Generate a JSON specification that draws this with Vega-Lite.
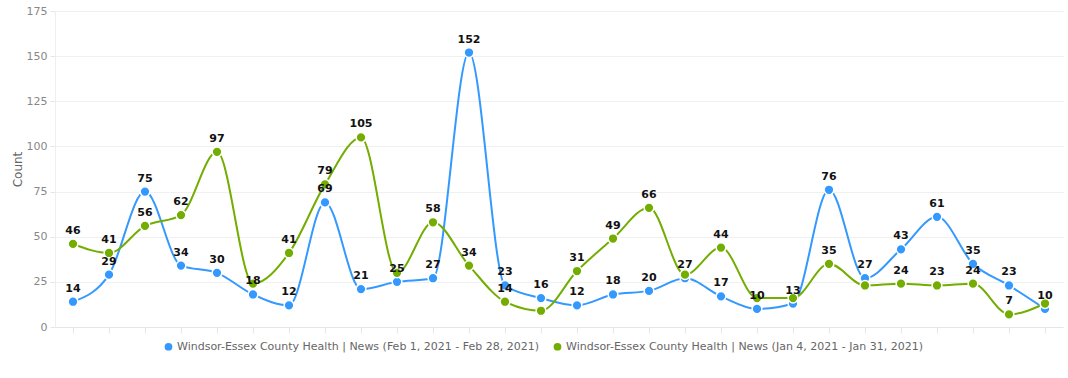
{
  "$schema": "https://vega.github.io/schema/vega-lite/v6.json",
  "width": 1008,
  "height": 316,
  "autosize": {"type": "none"},
  "padding": {"left": 55, "top": 11, "right": 5, "bottom": 51},
  "background": "white",
  "config": {
    "font": "DejaVu Sans",
    "view": {"stroke": null}
  },
  "data": {
    "values": [
      {"day": 1, "series": "Windsor-Essex County Health | News (Feb 1, 2021 - Feb 28, 2021)", "count": 14, "labeled": true},
      {"day": 2, "series": "Windsor-Essex County Health | News (Feb 1, 2021 - Feb 28, 2021)", "count": 29, "labeled": true},
      {"day": 3, "series": "Windsor-Essex County Health | News (Feb 1, 2021 - Feb 28, 2021)", "count": 75, "labeled": true},
      {"day": 4, "series": "Windsor-Essex County Health | News (Feb 1, 2021 - Feb 28, 2021)", "count": 34, "labeled": true},
      {"day": 5, "series": "Windsor-Essex County Health | News (Feb 1, 2021 - Feb 28, 2021)", "count": 30, "labeled": true},
      {"day": 6, "series": "Windsor-Essex County Health | News (Feb 1, 2021 - Feb 28, 2021)", "count": 18, "labeled": true},
      {"day": 7, "series": "Windsor-Essex County Health | News (Feb 1, 2021 - Feb 28, 2021)", "count": 12, "labeled": true},
      {"day": 8, "series": "Windsor-Essex County Health | News (Feb 1, 2021 - Feb 28, 2021)", "count": 69, "labeled": true},
      {"day": 9, "series": "Windsor-Essex County Health | News (Feb 1, 2021 - Feb 28, 2021)", "count": 21, "labeled": true},
      {"day": 10, "series": "Windsor-Essex County Health | News (Feb 1, 2021 - Feb 28, 2021)", "count": 25, "labeled": true},
      {"day": 11, "series": "Windsor-Essex County Health | News (Feb 1, 2021 - Feb 28, 2021)", "count": 27, "labeled": true},
      {"day": 12, "series": "Windsor-Essex County Health | News (Feb 1, 2021 - Feb 28, 2021)", "count": 152, "labeled": true},
      {"day": 13, "series": "Windsor-Essex County Health | News (Feb 1, 2021 - Feb 28, 2021)", "count": 23, "labeled": true},
      {"day": 14, "series": "Windsor-Essex County Health | News (Feb 1, 2021 - Feb 28, 2021)", "count": 16, "labeled": true},
      {"day": 15, "series": "Windsor-Essex County Health | News (Feb 1, 2021 - Feb 28, 2021)", "count": 12, "labeled": true},
      {"day": 16, "series": "Windsor-Essex County Health | News (Feb 1, 2021 - Feb 28, 2021)", "count": 18, "labeled": true},
      {"day": 17, "series": "Windsor-Essex County Health | News (Feb 1, 2021 - Feb 28, 2021)", "count": 20, "labeled": true},
      {"day": 18, "series": "Windsor-Essex County Health | News (Feb 1, 2021 - Feb 28, 2021)", "count": 27, "labeled": true},
      {"day": 19, "series": "Windsor-Essex County Health | News (Feb 1, 2021 - Feb 28, 2021)", "count": 17, "labeled": true},
      {"day": 20, "series": "Windsor-Essex County Health | News (Feb 1, 2021 - Feb 28, 2021)", "count": 10, "labeled": true},
      {"day": 21, "series": "Windsor-Essex County Health | News (Feb 1, 2021 - Feb 28, 2021)", "count": 13, "labeled": true},
      {"day": 22, "series": "Windsor-Essex County Health | News (Feb 1, 2021 - Feb 28, 2021)", "count": 76, "labeled": true},
      {"day": 23, "series": "Windsor-Essex County Health | News (Feb 1, 2021 - Feb 28, 2021)", "count": 27, "labeled": true},
      {"day": 24, "series": "Windsor-Essex County Health | News (Feb 1, 2021 - Feb 28, 2021)", "count": 43, "labeled": true},
      {"day": 25, "series": "Windsor-Essex County Health | News (Feb 1, 2021 - Feb 28, 2021)", "count": 61, "labeled": true},
      {"day": 26, "series": "Windsor-Essex County Health | News (Feb 1, 2021 - Feb 28, 2021)", "count": 35, "labeled": true},
      {"day": 27, "series": "Windsor-Essex County Health | News (Feb 1, 2021 - Feb 28, 2021)", "count": 23, "labeled": true},
      {"day": 28, "series": "Windsor-Essex County Health | News (Feb 1, 2021 - Feb 28, 2021)", "count": 10, "labeled": true},
      {"day": 1, "series": "Windsor-Essex County Health | News (Jan 4, 2021 - Jan 31, 2021)", "count": 46, "labeled": true},
      {"day": 2, "series": "Windsor-Essex County Health | News (Jan 4, 2021 - Jan 31, 2021)", "count": 41, "labeled": true},
      {"day": 3, "series": "Windsor-Essex County Health | News (Jan 4, 2021 - Jan 31, 2021)", "count": 56, "labeled": true},
      {"day": 4, "series": "Windsor-Essex County Health | News (Jan 4, 2021 - Jan 31, 2021)", "count": 62, "labeled": true},
      {"day": 5, "series": "Windsor-Essex County Health | News (Jan 4, 2021 - Jan 31, 2021)", "count": 97, "labeled": true},
      {"day": 6, "series": "Windsor-Essex County Health | News (Jan 4, 2021 - Jan 31, 2021)", "count": 24, "labeled": false},
      {"day": 7, "series": "Windsor-Essex County Health | News (Jan 4, 2021 - Jan 31, 2021)", "count": 41, "labeled": true},
      {"day": 8, "series": "Windsor-Essex County Health | News (Jan 4, 2021 - Jan 31, 2021)", "count": 79, "labeled": true},
      {"day": 9, "series": "Windsor-Essex County Health | News (Jan 4, 2021 - Jan 31, 2021)", "count": 105, "labeled": true},
      {"day": 10, "series": "Windsor-Essex County Health | News (Jan 4, 2021 - Jan 31, 2021)", "count": 30, "labeled": false},
      {"day": 11, "series": "Windsor-Essex County Health | News (Jan 4, 2021 - Jan 31, 2021)", "count": 58, "labeled": true},
      {"day": 12, "series": "Windsor-Essex County Health | News (Jan 4, 2021 - Jan 31, 2021)", "count": 34, "labeled": true},
      {"day": 13, "series": "Windsor-Essex County Health | News (Jan 4, 2021 - Jan 31, 2021)", "count": 14, "labeled": true},
      {"day": 14, "series": "Windsor-Essex County Health | News (Jan 4, 2021 - Jan 31, 2021)", "count": 9, "labeled": false},
      {"day": 15, "series": "Windsor-Essex County Health | News (Jan 4, 2021 - Jan 31, 2021)", "count": 31, "labeled": true},
      {"day": 16, "series": "Windsor-Essex County Health | News (Jan 4, 2021 - Jan 31, 2021)", "count": 49, "labeled": true},
      {"day": 17, "series": "Windsor-Essex County Health | News (Jan 4, 2021 - Jan 31, 2021)", "count": 66, "labeled": true},
      {"day": 18, "series": "Windsor-Essex County Health | News (Jan 4, 2021 - Jan 31, 2021)", "count": 29, "labeled": false},
      {"day": 19, "series": "Windsor-Essex County Health | News (Jan 4, 2021 - Jan 31, 2021)", "count": 44, "labeled": true},
      {"day": 20, "series": "Windsor-Essex County Health | News (Jan 4, 2021 - Jan 31, 2021)", "count": 16, "labeled": false},
      {"day": 21, "series": "Windsor-Essex County Health | News (Jan 4, 2021 - Jan 31, 2021)", "count": 16, "labeled": false},
      {"day": 22, "series": "Windsor-Essex County Health | News (Jan 4, 2021 - Jan 31, 2021)", "count": 35, "labeled": true},
      {"day": 23, "series": "Windsor-Essex County Health | News (Jan 4, 2021 - Jan 31, 2021)", "count": 23, "labeled": false},
      {"day": 24, "series": "Windsor-Essex County Health | News (Jan 4, 2021 - Jan 31, 2021)", "count": 24, "labeled": true},
      {"day": 25, "series": "Windsor-Essex County Health | News (Jan 4, 2021 - Jan 31, 2021)", "count": 23, "labeled": true},
      {"day": 26, "series": "Windsor-Essex County Health | News (Jan 4, 2021 - Jan 31, 2021)", "count": 24, "labeled": true},
      {"day": 27, "series": "Windsor-Essex County Health | News (Jan 4, 2021 - Jan 31, 2021)", "count": 7, "labeled": true},
      {"day": 28, "series": "Windsor-Essex County Health | News (Jan 4, 2021 - Jan 31, 2021)", "count": 13, "labeled": false}
    ]
  },
  "encoding": {
    "x": {
      "field": "day",
      "type": "ordinal",
      "scale": {"paddingInner": 0, "paddingOuter": 0},
      "axis": {
        "labels": false,
        "title": null,
        "grid": false,
        "bandPosition": 0,
        "domainColor": "#e6e6e6",
        "tickColor": "#e6e6e6",
        "tickSize": 6
      }
    },
    "y": {
      "field": "count",
      "type": "quantitative",
      "scale": {"domain": [0, 175]},
      "axis": {
        "title": "Count",
        "titleFontSize": 12,
        "titleFontWeight": "normal",
        "titleColor": "#666666",
        "titlePadding": 2,
        "values": [0, 25, 50, 75, 100, 125, 150, 175],
        "labelColor": "#888888",
        "labelFontSize": 11,
        "labelPadding": 3,
        "ticks": true,
        "tickSize": 5,
        "tickColor": "#e6e6e6",
        "domainColor": "#eeeeee",
        "gridColor": "#f0f0f0"
      }
    },
    "color": {
      "field": "series",
      "type": "nominal",
      "scale": {"range": ["#3399ff", "#72ad00"]},
      "legend": {
        "title": null,
        "orient": "none",
        "legendX": 108,
        "legendY": 330,
        "direction": "horizontal",
        "symbolType": "circle",
        "symbolSize": 60,
        "symbolStrokeWidth": 0,
        "labelFontSize": 11,
        "labelColor": "#666666",
        "labelLimit": 0,
        "columnPadding": 12,
        "labelOffset": 3
      }
    }
  },
  "layer": [
    {
      "mark": {"type": "line", "interpolate": "monotone", "strokeWidth": 2}
    },
    {
      "mark": {"type": "point", "filled": true, "size": 95, "stroke": "white", "strokeWidth": 1.5, "opacity": 1}
    },
    {
      "transform": [{"filter": "datum.labeled"}],
      "mark": {"type": "text", "dy": -13, "fontSize": 11, "fontWeight": "bold", "color": "#111111"},
      "encoding": {
        "text": {"field": "count", "type": "quantitative"},
        "color": {"value": "#111111"}
      }
    }
  ]
}
